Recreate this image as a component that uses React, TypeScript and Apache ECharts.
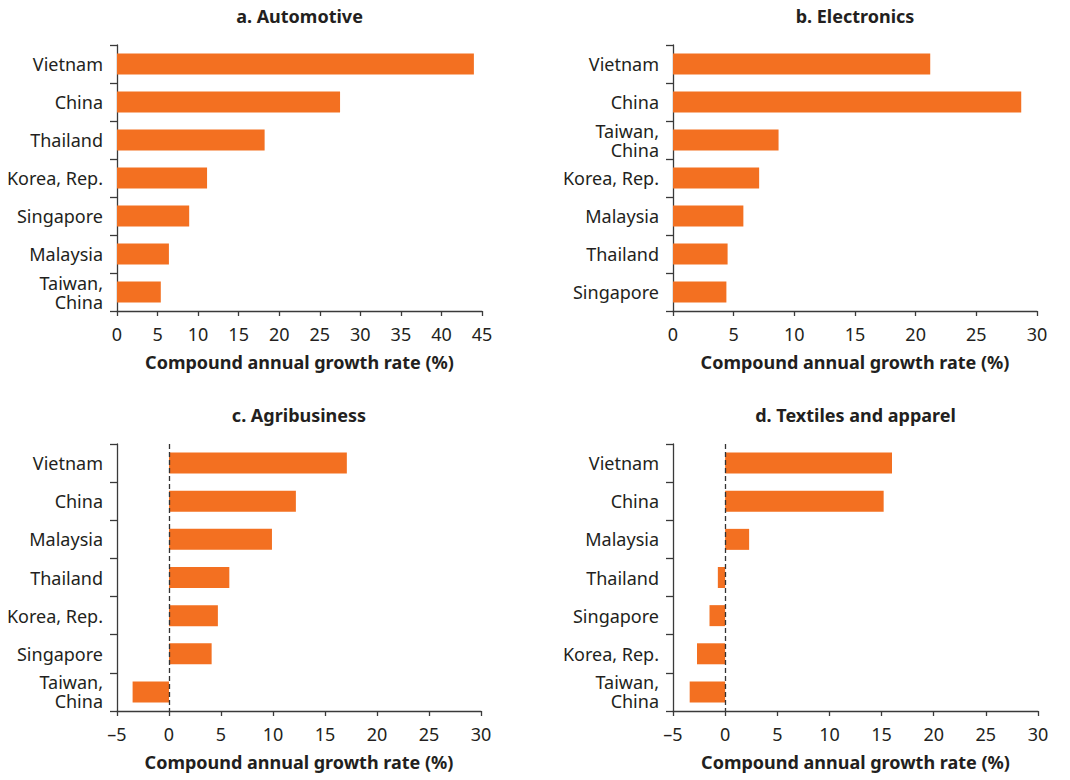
import React, { useEffect, useRef } from "react";
import * as echarts from "echarts";

const catsA = ["Vietnam", "China", "Thailand", "Korea, Rep.", "Singapore", "Malaysia", "Taiwan,\nChina"];
const valsA = [44.0, 27.5, 18.2, 11.1, 8.9, 6.4, 5.4];
const catsB = ["Vietnam", "China", "Taiwan,\nChina", "Korea, Rep.", "Malaysia", "Thailand", "Singapore"];
const valsB = [21.2, 28.7, 8.7, 7.1, 5.8, 4.5, 4.4];
const catsC = ["Vietnam", "China", "Malaysia", "Thailand", "Korea, Rep.", "Singapore", "Taiwan,\nChina"];
const valsC = [17.1, 12.2, 9.9, 5.8, 4.7, 4.1, -3.5];
const catsD = ["Vietnam", "China", "Malaysia", "Thailand", "Singapore", "Korea, Rep.", "Taiwan,\nChina"];
const valsD = [16.0, 15.2, 2.3, -0.7, -1.5, -2.7, -3.4];

const titles = ["a. Automotive", "b. Electronics", "c. Agribusiness", "d. Textiles and apparel"];
const axisName = "Compound annual growth rate (%)";
const xMins = [0, 0, -5, -5];
const xMaxs = [45, 30, 30, 30];

const FONT = "'Noto Sans', sans-serif";
const TXT = "#231F20";
const LINE = "#3a3a3a";
const ORANGE = "#F37021";

export default function App() {
  const ref = useRef<HTMLDivElement>(null);
  useEffect(() => {
    if (!ref.current) return;
    const chart = echarts.init(ref.current, undefined, { renderer: "svg" });
    const grids = [
      { left: 117, top: 45, width: 365, height: 266 },
      { left: 673, top: 45, width: 364, height: 266 },
      { left: 117, top: 444, width: 364, height: 267 },
      { left: 673, top: 444, width: 365, height: 267 },
    ];
    const cats = [catsA, catsB, catsC, catsD];
    const vals = [valsA, valsB, valsC, valsD];
    const option: any = {
      animation: false,
      backgroundColor: "#ffffff",
      textStyle: { fontFamily: FONT, color: TXT },
      grid: grids.map((g) => ({ ...g, containLabel: false })),
      xAxis: grids.map((_, i) => ({
        type: "value",
        gridIndex: i,
        min: xMins[i],
        max: xMaxs[i],
        interval: 5,
        name: axisName,
        nameLocation: "middle",
        nameGap: 42,
        nameTextStyle: { fontFamily: FONT, fontWeight: "bold", fontSize: 18, color: TXT },
        axisLine: { show: true, onZero: false, lineStyle: { color: LINE, width: 1.3 } },
        axisTick: { show: true, length: 5, lineStyle: { color: LINE, width: 1.3 } },
        axisLabel: {
          fontFamily: FONT,
          fontSize: 18,
          color: TXT,
          margin: 14,
          formatter: (v: number) => (v < 0 ? "\u2013" + Math.abs(v) : String(v)),
        },
        splitLine: { show: false },
      })),
      yAxis: grids.map((_, i) => ({
        type: "category",
        gridIndex: i,
        data: cats[i],
        inverse: true,
        axisLine: { show: true, onZero: false, lineStyle: { color: LINE, width: 1.3 } },
        axisTick: { show: true, length: 7, interval: 0, lineStyle: { color: LINE, width: 1.3 } },
        axisLabel: {
          fontFamily: FONT,
          fontSize: 18,
          color: TXT,
          margin: 14,
          lineHeight: 19,
          interval: 0,
        },
        splitLine: { show: false },
      })),
      series: grids.map((_, i) => ({
        type: "bar",
        xAxisIndex: i,
        yAxisIndex: i,
        data: vals[i],
        barWidth: 21,
        itemStyle: { color: ORANGE },
        markLine:
          xMins[i] < 0
            ? {
                silent: true,
                symbol: ["none", "none"],
                label: { show: false },
                lineStyle: { type: [5, 3], color: "#333", width: 1.3 },
                data: [{ xAxis: 0 }],
              }
            : undefined,
      })),
      graphic: grids.map((g, i) => ({
        type: "text",
        x: g.left + g.width / 2,
        y: i < 2 ? 7 : 406,
        style: {
          text: titles[i],
          font: `bold 18px ${FONT}`,
          fill: TXT,
          textAlign: "center",
          textVerticalAlign: "top",
        },
      })),
    };
    chart.setOption(option);
    return () => chart.dispose();
  }, []);
  return (
    <div
      ref={ref}
      style={{ position: "fixed", left: 0, top: 0, width: 1070, height: 780, background: "#fff" }}
    />
  );
}
